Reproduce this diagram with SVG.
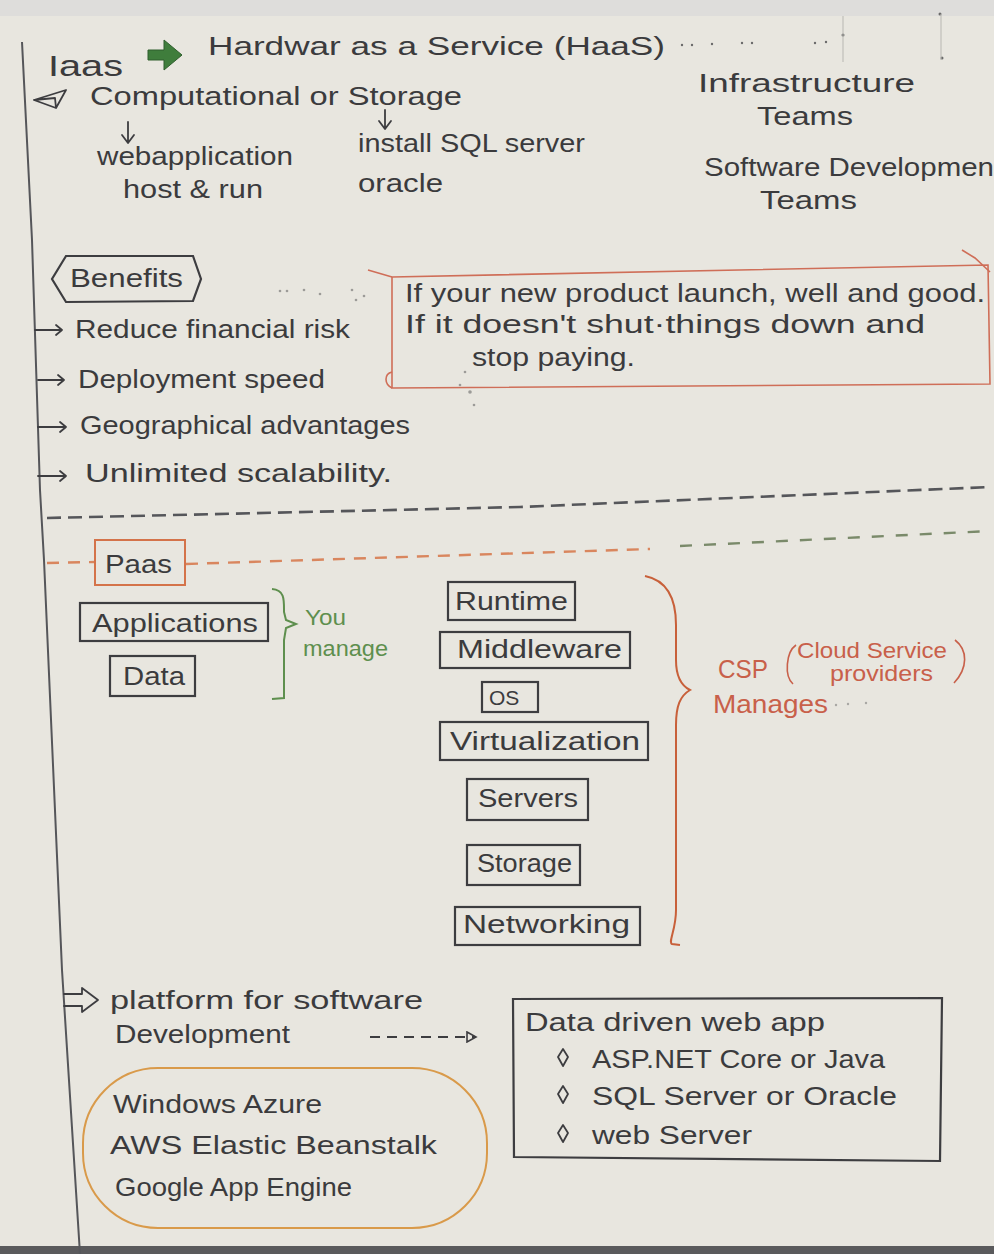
<svg xmlns="http://www.w3.org/2000/svg" width="994" height="1254" viewBox="0 0 994 1254">
  <defs>
    <style>
      text { font-family: "Liberation Sans", "DejaVu Sans", sans-serif; font-size: 26px; fill: #3b3b3d; }
      .sm { font-size: 22px; }
      .red { fill: #c8604a; }
      .grn { fill: #5e8f4e; }
      .box { fill: none; stroke: #3d3d40; stroke-width: 2.2; }
      .ink { fill: none; stroke: #3d3d40; stroke-width: 1.8; stroke-linecap: round; stroke-linejoin: round; }
      .redln { fill: none; stroke: #cf6e58; stroke-width: 1.6; }
      .dash { fill: none; stroke: #55565a; stroke-width: 2.6; stroke-dasharray: 14 7; }
      .odash { fill: none; stroke: #d9865e; stroke-width: 2.4; stroke-dasharray: 12 9; }
      .dot { fill: #6a6a6a; }
    </style>
    <marker id="openTri" markerWidth="12" markerHeight="12" refX="10" refY="6" orient="auto" markerUnits="userSpaceOnUse">
      <path d="M1,1 L10,6 L1,11 Z" fill="none" stroke="#3d3d40" stroke-width="1.6"/>
    </marker>
  </defs>

  <!-- paper -->
  <rect x="0" y="0" width="994" height="1254" fill="#e8e6df"/>
  <rect x="0" y="0" width="994" height="16" fill="#dedddb"/>
  <rect x="0" y="1246" width="994" height="8" fill="#5a5a5c"/>
  <!-- margin rule -->
  <polyline points="22,42 32,240 40,490 44,560 62,970 80,1254" fill="none" stroke="#55565a" stroke-width="2"/>

  <!-- IaaS header -->
  <g id="iaas-header">
    <text x="48" y="76" textLength="75" lengthAdjust="spacingAndGlyphs" style="font-size:30px">Iaas</text>
    <path d="M148,50 L164,50 L164,40 L182,55 L164,70 L164,60 L148,60 Z" fill="#3f7d3c" stroke="#2f5f2d" stroke-width="1"/>
    <text x="208" y="55" textLength="457" lengthAdjust="spacingAndGlyphs">Hardwar as a Service (HaaS)</text>
    <g class="dot">
      <circle cx="682" cy="45" r="1.2"/><circle cx="692" cy="45" r="1.2"/><circle cx="712" cy="44" r="1.2"/>
      <circle cx="742" cy="43" r="1.2"/><circle cx="752" cy="43" r="1.2"/><circle cx="815" cy="43" r="1.2"/>
      <circle cx="826" cy="42" r="1.2"/><circle cx="843" cy="35" r="1.5"/><circle cx="940" cy="14" r="1.5"/>
      <circle cx="942" cy="58" r="1.5"/>
    </g>
    <line x1="843" y1="16" x2="843" y2="62" stroke="#b8b7b2" stroke-width="1"/>
    <line x1="941" y1="14" x2="941" y2="60" stroke="#b8b7b2" stroke-width="1"/>
  </g>

  <g id="computational">
    <path class="ink" d="M34,100 L66,90 L56,108 Z M34,100 L55,98 L56,108"/>
    <text x="90" y="105" textLength="372" lengthAdjust="spacingAndGlyphs">Computational or Storage</text>
    <path class="ink" d="M128,122 L128,142 M122,135 L128,143 L134,135"/>
    <path class="ink" d="M385,110 L385,128 M379,121 L385,129 L391,121"/>
    <text x="97" y="165" textLength="196" lengthAdjust="spacingAndGlyphs">webapplication</text>
    <text x="123" y="198" textLength="140" lengthAdjust="spacingAndGlyphs">host &amp; run</text>
    <text x="358" y="152" textLength="227" lengthAdjust="spacingAndGlyphs">install SQL server</text>
    <text x="358" y="192" textLength="85" lengthAdjust="spacingAndGlyphs">oracle</text>
  </g>

  <g id="teams">
    <text x="698" y="92" textLength="217" lengthAdjust="spacingAndGlyphs">Infrastructure</text>
    <text x="757" y="125" textLength="96" lengthAdjust="spacingAndGlyphs">Teams</text>
    <text x="704" y="176" textLength="290" lengthAdjust="spacingAndGlyphs">Software Developmen</text>
    <text x="760" y="209" textLength="97" lengthAdjust="spacingAndGlyphs">Teams</text>
  </g>

  <!-- Benefits -->
  <g id="benefits">
    <path class="box" d="M66,256 L193,256 L201,279 L193,301 L66,302 L52,279 Z"/>
    <text x="70" y="287" textLength="113" lengthAdjust="spacingAndGlyphs">Benefits</text>
  </g>
  <g id="benefit-list">
    <path class="ink" d="M35,330 L62,330 M56,325 L62,330 L56,335"/>
    <text x="75" y="338" textLength="275" lengthAdjust="spacingAndGlyphs">Reduce financial risk</text>
    <path class="ink" d="M38,380 L64,380 M58,375 L64,380 L58,385"/>
    <text x="78" y="388" textLength="247" lengthAdjust="spacingAndGlyphs">Deployment speed</text>
    <path class="ink" d="M38,427 L66,427 M60,422 L66,427 L60,432"/>
    <text x="80" y="434" textLength="330" lengthAdjust="spacingAndGlyphs">Geographical advantages</text>
    <path class="ink" d="M38,476 L66,476 M60,471 L66,476 L60,481"/>
    <text x="85" y="482" textLength="307" lengthAdjust="spacingAndGlyphs">Unlimited scalability.</text>
    <g class="dot" opacity="0.6">
      <circle cx="280" cy="291" r="1.3"/><circle cx="287" cy="291" r="1.3"/><circle cx="304" cy="290" r="1.3"/>
      <circle cx="320" cy="294" r="1.3"/><circle cx="352" cy="290" r="1.3"/><circle cx="356" cy="300" r="1.3"/>
      <circle cx="364" cy="296" r="1.3"/><circle cx="465" cy="372" r="1.3"/><circle cx="470" cy="392" r="1.8"/>
      <circle cx="460" cy="385" r="1.3"/><circle cx="474" cy="405" r="1.3"/>
    </g>
  </g>

  <!-- note box -->
  <g id="note">
    <path class="redln" d="M392,277 L988,265 L990,384 L392,388 Z"/>
    <path class="redln" d="M368,270 L392,277 M962,250 L975,258 L990,272 M392,388 C384,384 384,374 392,372"/>
    <text x="405" y="302" textLength="580" lengthAdjust="spacingAndGlyphs">If your new product launch, well and good.</text>
    <text x="405" y="333" textLength="520" lengthAdjust="spacingAndGlyphs">If it doesn't shut·things down and</text>
    <text x="472" y="366" textLength="163" lengthAdjust="spacingAndGlyphs">stop paying.</text>
  </g>

  <!-- section dividers -->
  <g id="dividers">
    <path class="dash" d="M47,518 L520,507 L990,487"/>
    <path class="odash" d="M47,563 L95,562"/>
    <path class="odash" d="M186,564 L650,549"/>
    <path d="M680,546 L990,531" fill="none" stroke="#7a8a6a" stroke-width="2.4" stroke-dasharray="12 12"/>
  </g>

  <g id="paas">
    <rect x="95" y="540" width="90" height="45" fill="none" stroke="#d4734a" stroke-width="2"/>
    <text x="105" y="573" textLength="67" lengthAdjust="spacingAndGlyphs">Paas</text>
  </g>

  <!-- you manage -->
  <g id="applications">
    <rect class="box" x="80" y="603" width="188" height="38"/>
    <text x="92" y="632" textLength="166" lengthAdjust="spacingAndGlyphs">Applications</text>
  </g>
  <g id="data">
    <rect class="box" x="110" y="656" width="85" height="40"/>
    <text x="123" y="685" textLength="62" lengthAdjust="spacingAndGlyphs">Data</text>
  </g>
  <g id="you-manage">
    <path d="M272,589 C285,590 284,600 284,612 L286,620 L296,624 L286,628 L284,640 L284,698 L272,699" fill="none" stroke="#5e8f4e" stroke-width="2"/>
    <text class="grn sm" x="305" y="625" textLength="41" lengthAdjust="spacingAndGlyphs">You</text>
    <text class="grn sm" x="303" y="656" textLength="85" lengthAdjust="spacingAndGlyphs">manage</text>
  </g>

  <!-- provider stack -->
  <g id="runtime">
    <rect class="box" x="448" y="582" width="127" height="38"/>
    <text x="455" y="610" textLength="113" lengthAdjust="spacingAndGlyphs">Runtime</text>
  </g>
  <g id="middleware">
    <rect class="box" x="440" y="632" width="190" height="36"/>
    <text x="457" y="658" textLength="165" lengthAdjust="spacingAndGlyphs">Middleware</text>
  </g>
  <g id="os">
    <rect class="box" x="482" y="682" width="56" height="30"/>
    <text x="489" y="705" style="font-size:21px">OS</text>
  </g>
  <g id="virtualization">
    <rect class="box" x="440" y="722" width="208" height="38"/>
    <text x="450" y="750" textLength="190" lengthAdjust="spacingAndGlyphs">Virtualization</text>
  </g>
  <g id="servers">
    <rect class="box" x="467" y="779" width="121" height="41"/>
    <text x="478" y="807" textLength="100" lengthAdjust="spacingAndGlyphs">Servers</text>
  </g>
  <g id="storage">
    <rect class="box" x="467" y="845" width="113" height="40"/>
    <text x="477" y="872" textLength="95" lengthAdjust="spacingAndGlyphs">Storage</text>
  </g>
  <g id="networking">
    <rect class="box" x="455" y="907" width="185" height="38"/>
    <text x="463" y="933" textLength="167" lengthAdjust="spacingAndGlyphs">Networking</text>
  </g>

  <g id="csp">
    <path d="M645,576 C665,580 676,595 676,625 L676,660 C676,678 682,686 690,690 C680,696 676,706 676,725 L676,910 C676,930 668,942 672,944 L680,945" fill="none" stroke="#c8603a" stroke-width="2"/>
    <text class="red" x="718" y="678" textLength="50" lengthAdjust="spacingAndGlyphs">CSP</text>
    <path d="M796,645 C786,652 784,676 793,684" fill="none" stroke="#c8604a" stroke-width="1.6"/>
    <path d="M955,640 C968,650 968,668 954,683" fill="none" stroke="#c8604a" stroke-width="1.6"/>
    <text class="red sm" x="797" y="658" textLength="150" lengthAdjust="spacingAndGlyphs">Cloud Service</text>
    <text class="red sm" x="830" y="681" textLength="103" lengthAdjust="spacingAndGlyphs">providers</text>
    <text class="red" x="713" y="713" textLength="115" lengthAdjust="spacingAndGlyphs">Manages</text>
    <g class="dot" opacity="0.5">
      <circle cx="836" cy="705" r="1.2"/><circle cx="848" cy="704" r="1.2"/><circle cx="866" cy="703" r="1.2"/>
    </g>
  </g>

  <!-- platform -->
  <g id="platform">
    <path class="ink" d="M64,994 L82,994 L82,988 L98,1000 L82,1012 L82,1006 L64,1006"/>
    <text x="110" y="1009" textLength="313" lengthAdjust="spacingAndGlyphs">platform for software</text>
    <text x="115" y="1043" textLength="175" lengthAdjust="spacingAndGlyphs">Development</text>
  </g>

  <g id="connectors">
    <path d="M370,1037 L476,1037" fill="none" stroke="#3d3d40" stroke-width="1.8" stroke-dasharray="10 7" marker-end="url(#openTri)"/>
  </g>

  <g id="providers">
    <rect x="83" y="1068" width="404" height="160" rx="75" ry="75" fill="none" stroke="#d99a4a" stroke-width="2"/>
    <text x="113" y="1113" textLength="209" lengthAdjust="spacingAndGlyphs">Windows Azure</text>
    <text x="110" y="1154" textLength="327" lengthAdjust="spacingAndGlyphs">AWS Elastic Beanstalk</text>
    <text x="115" y="1196" textLength="237" lengthAdjust="spacingAndGlyphs">Google App Engine</text>
  </g>

  <g id="web-app">
    <path class="box" d="M513,999 L942,998 L940,1161 L514,1157 Z"/>
    <text x="525" y="1031" textLength="300" lengthAdjust="spacingAndGlyphs">Data driven web app</text>
    <path class="ink" d="M563,1049 L568,1057 L563,1066 L558,1057 Z"/>
    <text x="592" y="1068" textLength="293" lengthAdjust="spacingAndGlyphs">ASP.NET Core or Java</text>
    <path class="ink" d="M563,1086 L568,1094 L563,1103 L558,1094 Z"/>
    <text x="592" y="1105" textLength="305" lengthAdjust="spacingAndGlyphs">SQL Server or Oracle</text>
    <path class="ink" d="M563,1125 L568,1133 L563,1142 L558,1133 Z"/>
    <text x="592" y="1144" textLength="160" lengthAdjust="spacingAndGlyphs">web Server</text>
  </g>
</svg>
